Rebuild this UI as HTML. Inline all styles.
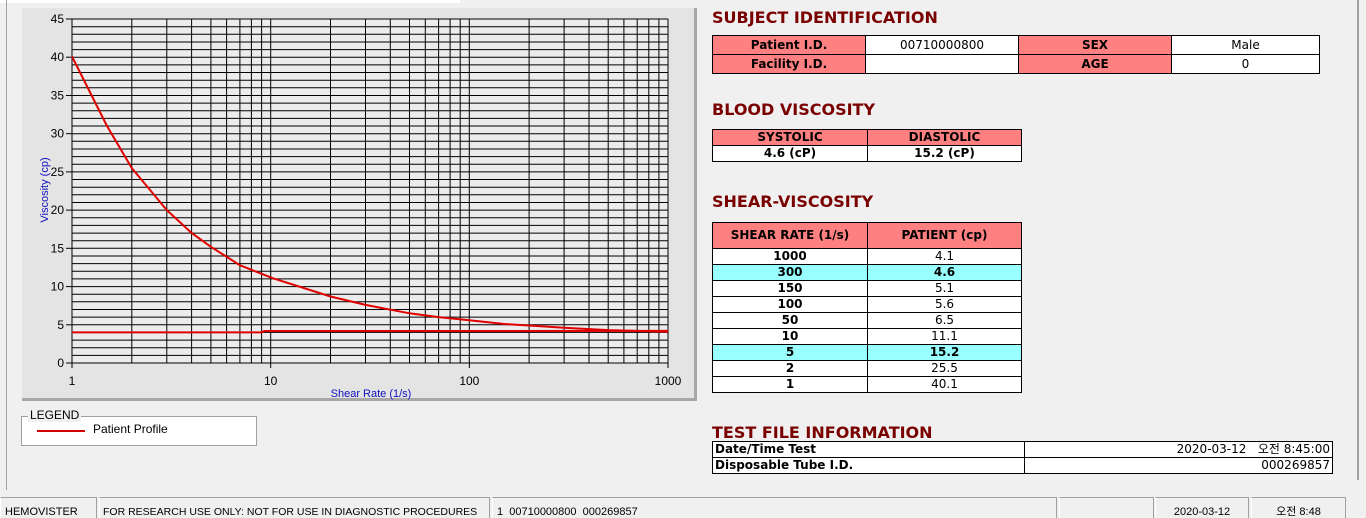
<!DOCTYPE html>
<html><head><meta charset="utf-8"><style>
html,body{margin:0;width:1366px;height:518px;overflow:hidden}
body{background:#f0f0f0;position:relative;font-family:"Liberation Sans","Noto Sans CJK KR",sans-serif}
.a{position:absolute}
.t{position:absolute;font-weight:bold;color:#7a0000;font-size:16px;font-family:"DejaVu Sans","Liberation Sans",sans-serif}
table{position:absolute;border-collapse:collapse;font-family:"DejaVu Sans","Liberation Sans",sans-serif;font-size:12px}
td{border:1px solid #000;padding:0;text-align:center;background:#fff;color:#000;height:15px;line-height:15px}
td.h{background:#ff8080;font-weight:bold}
tr.c td{background:#99ffff;font-weight:bold}
.s td{height:18px;line-height:18px}
.sb{position:absolute;top:497px;height:21px;border-top:1px solid #a0a0a0;border-left:1px solid #fff;border-right:1px solid #a0a0a0;font-size:11px;line-height:28px;padding-left:4px;box-sizing:border-box;white-space:nowrap;overflow:hidden}
</style></head><body>
<div class="a" style="left:0;top:0;width:460px;height:3px;background:#fff"></div>
<div class="a" style="left:6px;top:0;width:1px;height:490px;background:#a0a0a0"></div>
<div class="a" style="left:1357px;top:0;width:2px;height:480px;background:#a0a0a0"></div>
<svg class="a" style="left:0;top:0" width="700" height="410" id="ch">
<rect x="22" y="8" width="675" height="393" fill="#e4e4e4"/>
<rect x="22" y="398" width="675" height="3" fill="#a8a8a8"/>
<rect x="694" y="8" width="3" height="393" fill="#a8a8a8"/>
<rect x="72" y="19" width="596" height="344" fill="#ececec"/>
<g id="g" stroke="#000" stroke-width="1"></g>
<g id="lb" font-size="12" fill="#000" font-family="Liberation Sans,sans-serif"></g>
<polyline fill="none" stroke="#e00000" stroke-width="2" points="72,56.5 107,126 131.8,168.1 166.8,210.1 191.6,233 210.9,246.8 239.9,265.2 272.7,278.2 330.5,296.5 365.5,304.9 409.5,313.3 438.6,317.1 469.3,320.2 504.4,324 529.1,325.5 564.1,327.8 608.2,330.1 668,331.7"/>
<polyline fill="none" stroke="#e00000" stroke-width="2" points="72,332.4 262,332.4 264,331 668,330.9"/>
<text x="371" y="397" font-size="11" fill="#1010c0" text-anchor="middle">Shear Rate (1/s)</text>
<text transform="translate(48,190) rotate(-90)" font-size="11" fill="#1010c0" text-anchor="middle">Viscosity (cp)</text>
</svg>
<script>
var g=document.getElementById('g'),lb=document.getElementById('lb'),s='',l='';
for(var i=0;i<=45;i++){var y=(363-7.644*i).toFixed(1);s+='<line x1="72" x2="668" y1="'+y+'" y2="'+y+'"/>';if(i%5==0){s+='<line x1="66" x2="72" y1="'+y+'" y2="'+y+'"/>';l+='<text x="64" y="'+(+y+4)+'" text-anchor="end">'+i+'</text>';}}
for(var d=0;d<3;d++)for(var k=1;k<=9;k++){var x=(72+198.67*(d+Math.log10(k))).toFixed(1);s+='<line y1="19" y2="363" x1="'+x+'" x2="'+x+'"/>';}
s+='<line y1="19" y2="363" x1="668" x2="668"/><line x1="72" x2="668" y1="363" y2="363"/><line x1="72" x2="72" y1="19" y2="368"/>';
['1','10','100','1000'].forEach(function(t,j){var x=72+198.67*j;s+='<line y1="363" y2="368" x1="'+x+'" x2="'+x+'"/>';l+='<text x="'+x+'" y="385" text-anchor="middle">'+t+'</text>';});
g.innerHTML=s;lb.innerHTML=l;
</script>
<div class="a" style="left:21px;top:416px;width:234px;height:28px;border:1px solid #a0a0a0;background:#fff"></div>
<div class="a" style="left:28px;top:408px;background:#f0f0f0;font-size:12px;padding:0 2px">LEGEND</div>
<div class="a" style="left:37px;top:430px;width:48px;height:2px;background:#d00000"></div>
<div class="a" style="left:93px;top:422px;font-size:12px">Patient Profile</div>

<div class="t" style="left:712px;top:8px">SUBJECT IDENTIFICATION</div>
<table class="s" style="left:712px;top:35px;width:608px"><tr><td class="h" style="width:152px">Patient I.D.</td><td style="width:152px">00710000800</td><td class="h" style="width:152px">SEX</td><td>Male</td></tr>
<tr><td class="h">Facility I.D.</td><td></td><td class="h">AGE</td><td>0</td></tr></table>
<div class="t" style="left:712px;top:100px">BLOOD VISCOSITY</div>
<table style="left:712px;top:129px;width:310px;font-weight:bold"><tr><td class="h" style="width:154px;height:15px;line-height:15px">SYSTOLIC</td><td class="h">DIASTOLIC</td></tr><tr><td style="font-weight:bold">4.6 (cP)</td><td style="font-weight:bold">15.2 (cP)</td></tr></table>
<div class="t" style="left:712px;top:192px">SHEAR-VISCOSITY</div>
<table style="left:712px;top:222px;width:310px"><tr><td class="h" style="width:154px;height:25px">SHEAR RATE (1/s)</td><td class="h">PATIENT (cp)</td></tr>
<tr><td><b>1000</b></td><td>4.1</td></tr><tr class="c"><td>300</td><td>4.6</td></tr><tr><td><b>150</b></td><td>5.1</td></tr><tr><td><b>100</b></td><td>5.6</td></tr><tr><td><b>50</b></td><td>6.5</td></tr><tr><td><b>10</b></td><td>11.1</td></tr><tr class="c"><td>5</td><td>15.2</td></tr><tr><td><b>2</b></td><td>25.5</td></tr><tr><td><b>1</b></td><td>40.1</td></tr></table>
<div class="t" style="left:712px;top:423px">TEST FILE INFORMATION</div>
<table style="left:712px;top:441px;width:621px"><tr><td style="width:309px;text-align:left;font-weight:bold;padding-left:2px">Date/Time Test</td><td style="text-align:right;padding-right:2px">2020-03-12 &nbsp;&nbsp;오전 8:45:00</td></tr>
<tr><td style="text-align:left;font-weight:bold;padding-left:2px">Disposable Tube I.D.</td><td style="text-align:right;padding-right:2px">000269857</td></tr></table>

<div class="sb" style="left:0;width:97px">HEMOVISTER</div>
<div class="sb" style="left:99px;width:391px;font-size:10.5px;padding-left:3px">FOR RESEARCH USE ONLY: NOT FOR USE IN DIAGNOSTIC PROCEDURES</div>
<div class="sb" style="left:492px;width:565px">1&nbsp; 00710000800&nbsp; 000269857</div>
<div class="sb" style="left:1059px;width:95px"></div>
<div class="sb" style="left:1155px;width:94px;text-align:center;padding:0">2020-03-12</div>
<div class="sb" style="left:1251px;width:95px;text-align:center;padding:0">오전 8:48</div>
</body></html>
